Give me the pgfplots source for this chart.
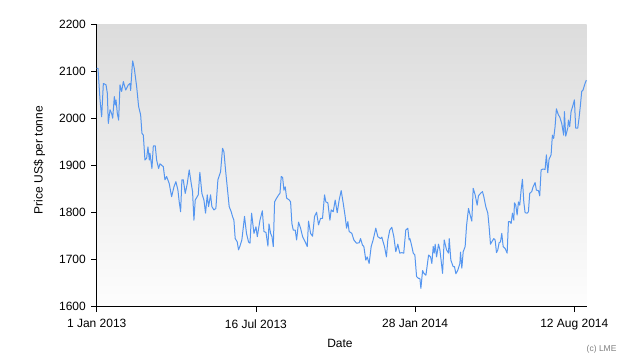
\documentclass[border=0pt]{standalone}
\usepackage{pgfplots}
\pgfplotsset{compat=1.18}
\usepackage{fontspec}
\setmainfont{Liberation Sans}
\definecolor{linec}{RGB}{85,150,240}
\definecolor{bgtop}{RGB}{220,220,220}
\definecolor{bgbot}{RGB}{253,253,253}
\begin{document}
\begin{tikzpicture}
\path[use as bounding box] (0,0) rectangle (635bp,363bp);
\begin{axis}[
  at={(96.7bp,56.3bp)}, anchor=south west,
  scale only axis, width=489.8bp, height=282bp,
  xmin=0, xmax=603, ymin=1600, ymax=2200,
  axis x line*=bottom, axis y line*=left,
  axis line style={-, black, line width=0.8bp},
  axis background/.style={shade, top color=bgtop, bottom color=bgbot},
  tick align=outside,
  major tick length=5.5bp,
  tick style={black, line width=0.8bp},
  xtick={0,196,392,588},
  xticklabels={1 Jan 2013,16 Jul 2013,28 Jan 2014,12 Aug 2014},
  ytick={1600,1700,...,2200},
  /pgf/number format/1000 sep={},
  /pgf/number format/assume math mode=true,
  tick label style={font=\fontsize{12bp}{14bp}\selectfont},
  xticklabel style={anchor=north, inner sep=0pt, yshift=-7bp},
  yticklabel style={anchor=east, inner sep=0pt, xshift=-5.2bp},
  clip=false,
  ylabel={Price US\$ per tonne},
  xlabel={Date},
  every axis y label/.style={at={(axis description cs:-0.1168,0.52)}, rotate=90, anchor=center, font=\fontsize{12bp}{14bp}\selectfont},
  every axis x label/.style={at={(axis description cs:0.4967,-0.1447)}, anchor=base, font=\fontsize{12bp}{14bp}\selectfont},
]
\addplot[color=linec, line width=1bp, no markers, line join=round] coordinates {
(0,2107)(1.6,2107)(4.1,2040)(6.1,2004)(8.2,2075)(11.5,2072)(13.1,2054)(14.3,1990)(16.4,2019)(18.4,2011)(19.7,2001)(21.7,2047)(22.9,2029)(23.8,2040)(25.4,2011)(27.0,1997)(28.7,2072)(30.7,2058)(32.8,2079)(35.7,2061)(38.9,2072)(41.0,2075)(41.8,2060)(43.4,2104)(44.3,2123)(46.3,2107)(49.2,2068)(51.6,2026)(54.1,2008)(55.7,1969)(57.4,1965)(59.4,1912)(61.5,1916)(63.1,1940)(64.8,1912)(65.6,1926)(68.0,1894)(69.7,1942)(72.1,1942)(73.8,1912)(76.2,1894)(77.9,1904)(82.0,1898)(84.0,1870)(86.1,1877)(89.3,1862)(92.2,1834)(95.1,1855)(97.5,1866)(100.0,1848)(101.6,1823)(103.3,1802)(104.9,1870)(106.6,1870)(109.0,1841)(111.5,1862)(113.9,1891)(116.4,1862)(118.0,1845)(119.7,1784)(121.3,1827)(125.0,1838)(127.0,1886)(129.5,1841)(132.0,1827)(134.0,1799)(136.1,1838)(137.7,1813)(140.2,1838)(141.8,1813)(144.3,1806)(146.7,1809)(149.2,1870)(152.5,1887)(154.9,1937)(156.6,1930)(159.0,1884)(161.5,1841)(163.1,1813)(165.6,1802)(167.2,1792)(168.9,1784)(170.5,1745)(173.0,1738)(174.6,1721)(176.2,1728)(178.7,1742)(182.0,1792)(184.4,1756)(186.9,1738)
(188.7,1735)(190.7,1799)(193.6,1756)(196.1,1770)(197.7,1749)(201.0,1784)(203.9,1804)(205.9,1760)(208.4,1758)(210.8,1729)(212.1,1776)(214.1,1756)(215.8,1749)(217.4,1728)(219.0,1823)(221.5,1831)(224.0,1838)(225.6,1841)(227.2,1877)(228.9,1875)(230.5,1848)(232.1,1855)(233.8,1831)(237.1,1827)(238.7,1823)(240.3,1777)(242.0,1763)(244.4,1763)(246.1,1742)(248.5,1780)(251.0,1767)(253.5,1749)(256.7,1738)(259.2,1728)(260.8,1782)(263.3,1756)(265.7,1750)(268.2,1792)(270.7,1801)(273.1,1774)(275.6,1788)(278.0,1788)(280.5,1838)(282.1,1823)(284.6,1821)(287.1,1784)(288.7,1806)(291.2,1802)(293.6,1827)(296.1,1800)(298.5,1827)(301.0,1847)(303.5,1820)(305.9,1792)(307.6,1767)(309.2,1781)(310.8,1760)(314.1,1756)(316.6,1742)(319.9,1735)(323.1,1736)(324.8,1745)(327.2,1731)(328.9,1728)(331.3,1699)(333.0,1706)(335.4,1692)(337.9,1728)(340.3,1742)(343.6,1767)(346.1,1749)(349.4,1745)(351.0,1748)(352.6,1738)(354.3,1728)(356.7,1706)(358.4,1742)(360.8,1763)(363.3,1769)(365.8,1749)(368.2,1717)(370.7,1733)(373.1,1714)(375.6,1715)(378.0,1714)(380.5,1763)(383.0,1767)(384.6,1742)
(385.6,1745)(387.6,1731)(389.7,1714)(391.7,1710)(393.8,1664)(396.3,1660)(397.9,1660)(399.1,1639)(401.2,1677)(402.8,1671)(405.3,1667)(408.6,1710)(411.0,1706)(412.6,1692)(414.3,1728)(415.5,1714)(416.7,1733)(418.4,1706)(420.8,1733)(422.5,1721)(423.7,1703)(425.8,1671)(427.8,1742)(430.7,1721)(433.1,1714)(434.0,1745)(436.0,1699)(438.9,1685)(440.5,1685)(442.2,1670)(444.6,1678)(447.1,1692)(447.9,1716)(449.5,1682)(451.2,1717)(453.6,1728)(455.3,1772)(457.7,1809)(460.2,1792)(461.8,1782)(463.5,1852)(465.9,1838)(468.4,1816)(470.0,1836)(472.5,1841)(474.9,1845)(476.6,1834)(479.0,1813)(481.5,1799)(483.1,1770)(484.8,1733)(486.4,1738)(488.9,1745)(490.5,1742)(492.2,1715)(493.8,1721)(495.4,1736)(497.1,1738)(498.7,1756)(500.4,1728)(502.8,1724)(505.3,1714)(506.9,1781)(508.6,1781)(510.2,1777)(511.8,1799)(513.5,1784)(514.3,1821)(515.9,1816)(517.6,1795)(519.2,1823)(520.8,1816)(522.5,1848)(524.1,1871)(525.8,1823)(527.4,1800)(529.9,1799)(531.5,1802)(533.1,1841)(535.6,1845)(537.2,1855)(539.7,1864)(541.3,1848)(543.8,1847)(545.4,1836)(547.1,1891)(549.5,1893)(552.0,1892)(553.6,1923)(555.3,1885)(556.9,1914)(559.4,1923)(561.0,1965)(562.6,1958)(564.3,1983)(565.9,2021)(568.4,2008)(570.0,2004)(572.5,1990)(574.9,1965)(575.8,2015)(577.4,1963)(579.9,1980)(580.7,1997)(582.3,1983)(584.0,2015)(586.4,2029)(588.1,2040)(589.7,1980)(592.2,1980)(593.8,2001)(595.4,2027)(597.1,2058)(598.7,2061)(601.2,2075)(602.8,2082)
};
\node[anchor=base east, text=gray, font=\fontsize{8.5bp}{10bp}\selectfont] at (axis description cs:1.0684,-0.1606) {(c) LME};
\end{axis}
\end{tikzpicture}
\end{document}
